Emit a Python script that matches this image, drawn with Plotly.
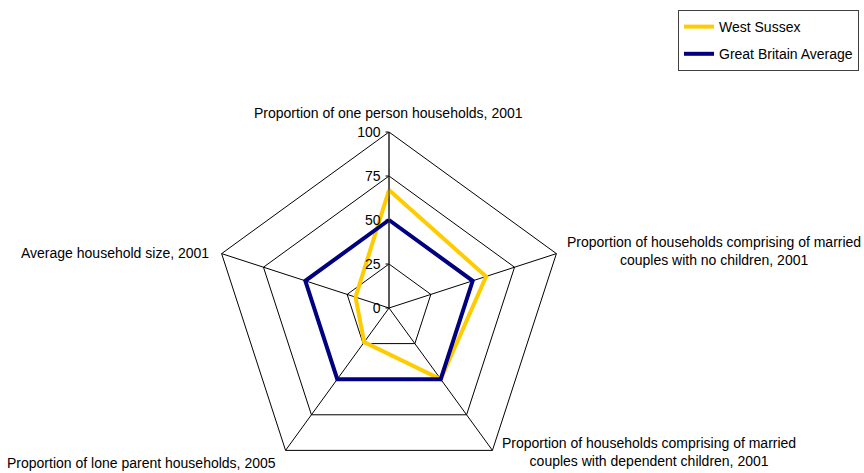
import plotly.graph_objects as go

categories = [
    "Proportion of one person households, 2001",
    "Proportion of households comprising of married<br>couples with no children, 2001",
    "Proportion of households comprising of married<br>couples with dependent children, 2001",
    "Proportion of lone parent households, 2005",
    "Average household size, 2001",
]
west_sussex = [67, 58, 50, 24, 20]
gb_average = [50, 50, 50, 50, 50]
radial_ticks = [0, 25, 50, 75, 100]

FONT = "Liberation Sans, Arial, sans-serif"
FS = 14

W, H = 864, 486


def fx(px):
    return px / W


def fy(py):
    return 1 - py / H


fig = go.Figure()
fig.add_trace(go.Scatterpolar(
    r=west_sussex + west_sussex[:1], theta=categories + categories[:1],
    mode="lines", name="West Sussex", legendgroup="ws",
    line=dict(color="#FFCC00", width=4),
))
fig.add_trace(go.Scatterpolar(
    r=gb_average + gb_average[:1], theta=categories + categories[:1],
    mode="lines", name="Great Britain Average", legendgroup="gb",
    line=dict(color="#000080", width=4),
))

cx, cy, R = 389, 308, 176

# category label placements (page pixels) and anchors
label_pos = [
    (388, 113, "center"),
    (565, 251, "left"),
    (500, 452, "left"),
    (278, 463, "right"),
    (211, 253, "right"),
]
annotations = []
for text, (px, py, anchor) in zip(categories, label_pos):
    annotations.append(dict(
        text=text, x=fx(px), y=fy(py), xref="paper", yref="paper",
        xanchor=anchor, yanchor="middle", align="center", showarrow=False,
        font=dict(family=FONT, size=FS, color="black"),
    ))

fig.update_layout(
    width=W, height=H,
    margin=dict(l=0, r=0, t=0, b=0),
    paper_bgcolor="white", plot_bgcolor="white",
    font=dict(family=FONT, size=FS, color="black"),
    showlegend=True,
    legend=dict(
        x=fx(678), y=fy(10), xanchor="left", yanchor="top",
        bordercolor="#404040", borderwidth=1, bgcolor="white",
        font=dict(family=FONT, size=FS, color="black"),
        tracegroupgap=6,
    ),
    annotations=annotations,
    polar=dict(
        domain=dict(x=[fx(cx - R), fx(cx + R)], y=[fy(cy + R), fy(cy - R)]),
        gridshape="linear",
        bgcolor="white",
        radialaxis=dict(
            range=[0, 100], tickvals=radial_ticks, ticktext=[str(v) for v in radial_ticks],
            angle=90, side="counterclockwise", tickangle=90,
            showline=True, linecolor="#333333", linewidth=1,
            ticks="outside", ticklen=3, tickcolor="black",
            gridcolor="black", gridwidth=1,
            tickfont=dict(family=FONT, size=FS, color="black"),
        ),
        angularaxis=dict(
            rotation=90, direction="clockwise",
            showline=True, linecolor="black", linewidth=1,
            gridcolor="black", gridwidth=1,
            ticks="", showticklabels=False,
        ),
    ),
)
fig.write_html(
    "out.html",
    config={"displayModeBar": False},
    post_script="document.body.style.margin='0';document.body.style.overflow='hidden';",
)
